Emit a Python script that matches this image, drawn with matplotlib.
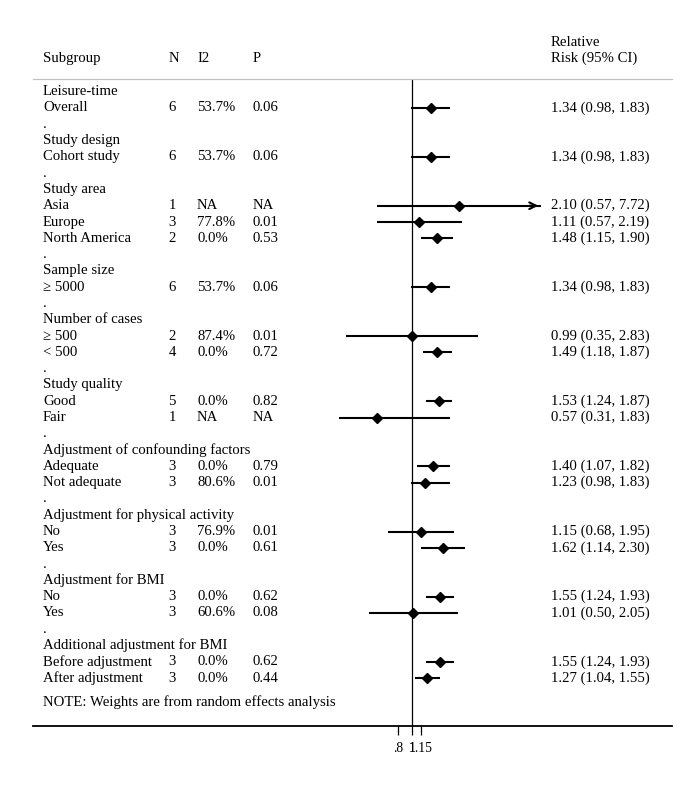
import numpy as np
import matplotlib
matplotlib.use("Agg")
import matplotlib.pyplot as plt
from matplotlib import transforms

plt.rcParams['font.family'] = ['Liberation Serif', 'DejaVu Serif']

# ---- data ----
labels = ["Leisure-time", "Overall", ".", "Study design", "Cohort study", ".",
          "Study area", "Asia", "Europe", "North America", ".",
          "Sample size", "\u2265 5000", ".",
          "Number of cases", "\u2265 500", "< 500", ".",
          "Study quality", "Good", "Fair", ".",
          "Adjustment of confounding factors", "Adequate", "Not adequate", ".",
          "Adjustment for physical activity", "No", "Yes", ".",
          "Adjustment for BMI", "No", "Yes", ".",
          "Additional adjustment for BMI", "Before adjustment", "After adjustment"]
n_col = ["", "6", "", "", "6", "", "", "1", "3", "2", "", "", "6", "", "", "2", "4", "",
         "", "5", "1", "", "", "3", "3", "", "", "3", "3", "", "", "3", "3", "", "", "3", "3"]
i2_col = ["", "53.7%", "", "", "53.7%", "", "", "NA", "77.8%", "0.0%", "", "", "53.7%", "", "",
          "87.4%", "0.0%", "", "", "0.0%", "NA", "", "", "0.0%", "80.6%", "", "", "76.9%", "0.0%", "",
          "", "0.0%", "60.6%", "", "", "0.0%", "0.0%"]
p_col = ["", "0.06", "", "", "0.06", "", "", "NA", "0.01", "0.53", "", "", "0.06", "", "",
         "0.01", "0.72", "", "", "0.82", "NA", "", "", "0.79", "0.01", "", "", "0.01", "0.61", "",
         "", "0.62", "0.08", "", "", "0.62", "0.44"]
rr = [None, 1.34, None, None, 1.34, None, None, 2.10, 1.11, 1.48, None, None, 1.34, None, None,
      0.99, 1.49, None, None, 1.53, 0.57, None, None, 1.40, 1.23, None, None, 1.15, 1.62, None,
      None, 1.55, 1.01, None, None, 1.55, 1.27]
lo = [None, 0.98, None, None, 0.98, None, None, 0.57, 0.57, 1.15, None, None, 0.98, None, None,
      0.35, 1.18, None, None, 1.24, 0.31, None, None, 1.07, 0.98, None, None, 0.68, 1.14, None,
      None, 1.24, 0.50, None, None, 1.24, 1.04]
hi = [None, 1.83, None, None, 1.83, None, None, 7.72, 2.19, 1.90, None, None, 1.83, None, None,
      2.83, 1.87, None, None, 1.87, 1.83, None, None, 1.82, 1.83, None, None, 1.95, 2.30, None,
      None, 1.93, 2.05, None, None, 1.93, 1.55]
arrow_rows = [7]
tick_vals = [0.8, 1.0, 1.15]
tick_labels = [".8", "1", "1.15"]

# ---- layout ----
W, H = 699, 787
fig = plt.figure(figsize=(W / 100, H / 100), dpi=100)
x0, x1 = 33, 672
y_top, y_bot = 79, 726
ax = fig.add_axes([x0 / W, 1 - y_bot / H, (x1 - x0) / W, (y_bot - y_top) / H])
ax.set_xscale('log')
px_per = 63.0
x_one = 412.3
ax.set_xlim(np.exp((x0 - x_one) / px_per), np.exp((x1 - x_one) / px_per))
row0, dy = 91.7, 16.29
ax.set_ylim((y_bot - row0) / dy, (y_top - row0) / dy)

for s in ['left', 'right']:
    ax.spines[s].set_visible(False)
ax.spines['top'].set_color('#c0c0c0')
ax.spines['top'].set_linewidth(0.9)
ax.spines['bottom'].set_linewidth(1.3)
ax.set_yticks([])
ax.set_xticks(tick_vals)
ax.set_xticklabels(tick_labels)
ax.xaxis.set_minor_locator(matplotlib.ticker.NullLocator())
ax.tick_params(axis='x', length=6.5, width=0.9, direction='out', labelsize=9.8, pad=5)

ax.axvline(1.0, color='black', lw=0.9)

fs = 10.6
tr = transforms.blended_transform_factory(ax.transAxes, ax.transData)
def fx(px):
    return (px - x0) / (x1 - x0)

for i, lab in enumerate(labels):
    ax.text(fx(43), i, lab, transform=tr, fontsize=fs, va='center', ha='left')
    if n_col[i]:
        ax.text(fx(168.5), i, n_col[i], transform=tr, fontsize=fs, va='center', ha='left')
        ax.text(fx(197), i, i2_col[i], transform=tr, fontsize=fs, va='center', ha='left')
        ax.text(fx(252.5), i, p_col[i], transform=tr, fontsize=fs, va='center', ha='left')
    if rr[i] is not None:
        ax.text(fx(551), i, f"{rr[i]:.2f} ({lo[i]:.2f}, {hi[i]:.2f})", transform=tr,
                fontsize=fs, va='center', ha='left')
        ax.plot([lo[i], hi[i]], [i, i], color='black', lw=1.5, solid_capstyle='butt')
        ax.plot([rr[i]], [i], marker='D', color='black', ms=5.2)
        if i in arrow_rows:
            ax.annotate('', xy=(hi[i], i), xytext=(hi[i] * 0.8, i),
                        arrowprops=dict(arrowstyle='->', lw=1.5, color='black',
                                        mutation_scale=12))

# header
hdr1 = (42.0 - row0) / dy
hdr2 = (58.3 - row0) / dy
ax.text(fx(43), hdr2, "Subgroup", transform=tr, fontsize=fs, va='center', clip_on=False)
ax.text(fx(168.5), hdr2, "N", transform=tr, fontsize=fs, va='center', clip_on=False)
ax.text(fx(197), hdr2, "I2", transform=tr, fontsize=fs, va='center', clip_on=False)
ax.text(fx(252.5), hdr2, "P", transform=tr, fontsize=fs, va='center', clip_on=False)
ax.text(fx(551), hdr1, "Relative", transform=tr, fontsize=fs, va='center', clip_on=False)
ax.text(fx(551), hdr2, "Risk (95% CI)", transform=tr, fontsize=fs, va='center', clip_on=False)

ax.text(fx(43), (701.7 - row0) / dy, "NOTE: Weights are from random effects analysis",
        transform=tr, fontsize=fs, va='center')

fig.savefig("out.png", dpi=100, facecolor='white')
